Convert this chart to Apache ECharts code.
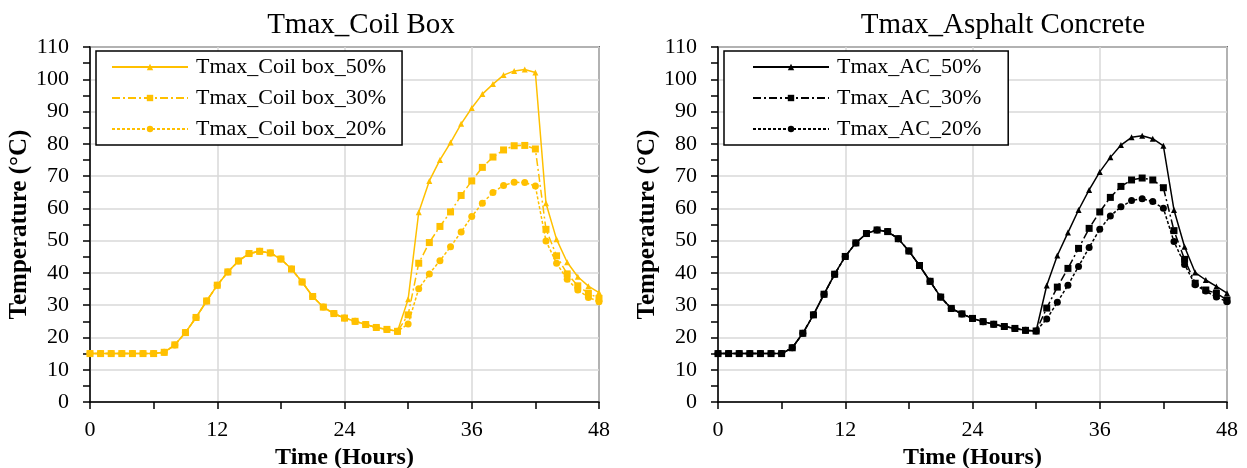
<!DOCTYPE html>
<html>
<head>
<meta charset="utf-8">
<script src="https://cdn.jsdelivr.net/npm/echarts@6/dist/echarts.min.js"></script>
<style>
  html, body { margin: 0; padding: 0; background: #fff; }
  #chart { width: 1247px; height: 468px; }
</style>
</head>
<body>
<div id="chart"></div>
<script>
// hours 0..48
const hours = [0,1,2,3,4,5,6,7,8,9,10,11,12,13,14,15,16,17,18,19,20,21,22,23,24,
  25,26,27,28,29,30,31,32,33,34,35,36,37,38,39,40,41,42,43,44,45,46,47,48];

// Coil box: shared part h0-h29, then each case from h30
const coilCommon = [15,15,15,15,15,15,15,15.4,17.7,21.5,26.2,31.3,36.2,40.3,43.7,46.0,46.7,46.2,
  44.3,41.2,37.2,32.7,29.4,27.4,26.0,25.0,24.0,23.1,22.5,21.9];
const coil50 = [31.8,58.8,68.5,75.0,80.4,86.2,91.1,95.4,98.5,101.3,102.6,103.0,102.1,61.6,50.4,43.3,38.8,35.9,33.9];
const coil30 = [27.0,43.0,49.4,54.4,58.9,64.0,68.5,72.7,75.9,78.1,79.4,79.5,78.4,53.5,45.3,39.7,36.0,33.7,32.1];
const coil20 = [24.2,35.1,39.7,43.8,48.1,52.7,57.5,61.6,64.9,67.1,68.1,68.0,66.9,49.9,43.0,38.0,34.7,32.4,31.1];

// Asphalt concrete: shared part h0-h30, then each case from h31
const acCommon = [15,15,15,15,15,15,15,16.8,21.3,27.0,33.4,39.6,45.1,49.3,52.2,53.3,52.8,50.6,46.8,
  42.3,37.4,32.5,29.0,27.3,25.9,24.9,24.1,23.4,22.8,22.2,22.0];
const ac50 = [36.1,45.4,52.5,59.5,65.7,71.3,75.8,79.6,82.0,82.5,81.6,79.4,59.5,48.1,40.1,37.8,35.8,33.7];
const ac30 = [29.1,35.6,41.4,47.6,53.8,58.9,63.4,66.8,68.8,69.4,68.8,66.4,53.1,44.2,36.8,34.7,33.7,31.6];
const ac20 = [25.7,30.9,36.2,42.0,47.9,53.5,57.6,60.5,62.4,63.0,62.1,60.0,49.7,42.6,36.3,34.4,32.5,31.1];

const coilNames = ['Tmax_Coil box_50%', 'Tmax_Coil box_30%', 'Tmax_Coil box_20%'];
const acNames = ['Tmax_AC_50%', 'Tmax_AC_30%', 'Tmax_AC_20%'];

const FONT = 'Liberation Serif';
const GOLD = '#FFC000';

function pairs(common, tail) {
  const vals = common.concat(tail);
  return hours.map((h, i) => [h, vals[i]]);
}

function xAxisFor(idx) {
  return {
    gridIndex: idx, type: 'value', min: 0, max: 48, interval: 12,
    name: 'Time (Hours)', nameLocation: 'middle', nameGap: 38,
    nameTextStyle: { fontFamily: FONT, fontSize: 24, fontWeight: 'bold', color: '#000' },
    axisLine: { lineStyle: { color: '#000', width: 1.5 } },
    axisTick: { length: 7, lineStyle: { color: '#000', width: 1.5 } },
    minorTick: { show: true, splitNumber: 2, length: 7, lineStyle: { color: '#000', width: 1.5 } },
    axisLabel: { fontFamily: FONT, fontSize: 22, color: '#000', margin: 17 },
    splitLine: { show: true, lineStyle: { color: '#d9d9d9', width: 1.5 } }
  };
}

function yAxisFor(idx) {
  return {
    gridIndex: idx, type: 'value', min: 0, max: 110, interval: 10,
    name: 'Temperature (°C)', nameLocation: 'middle', nameGap: 50,
    nameTextStyle: { fontFamily: FONT, fontSize: 25, fontWeight: 'bold', color: '#000' },
    axisLine: { lineStyle: { color: '#000', width: 1.5 } },
    axisTick: { length: 7, lineStyle: { color: '#000', width: 1.5 } },
    minorTick: { show: true, splitNumber: 2, length: 7, lineStyle: { color: '#000', width: 1.5 } },
    axisLabel: { fontFamily: FONT, fontSize: 22, color: '#000', margin: 21 },
    splitLine: { show: true, lineStyle: { color: '#d9d9d9', width: 1.5 } }
  };
}

function lineSeries(name, data, idx, color, symbol, size, dash) {
  return {
    name: name, type: 'line', xAxisIndex: idx, yAxisIndex: idx,
    data: data, symbol: symbol, symbolSize: size, showSymbol: true,
    lineStyle: { color: color, width: 1.5, type: dash },
    itemStyle: { color: color },
    animation: false
  };
}

function legendFor(left, names, pad) {
  return {
    left: left, top: 51, orient: 'vertical', data: names,
    itemWidth: 76, itemHeight: 8, itemGap: 9,
    padding: pad,
    backgroundColor: '#fff', borderColor: '#000', borderWidth: 1.5,
    textStyle: { fontFamily: FONT, fontSize: 22, color: '#000', padding: [0, 0, 0, 3] }
  };
}

const chart = echarts.init(document.getElementById('chart'));
chart.setOption({
  animation: false,
  title: [
    { text: 'Tmax_Coil Box', left: 356, top: 6, textAlign: 'center',
      textStyle: { fontFamily: FONT, fontSize: 29, fontWeight: 'normal', color: '#000' } },
    { text: 'Tmax_Asphalt Concrete', left: 998, top: 6, textAlign: 'center',
      textStyle: { fontFamily: FONT, fontSize: 29, fontWeight: 'normal', color: '#000' } }
  ],
  grid: [
    { left: 90, top: 47, width: 509, height: 355, outerBoundsMode: 'none',
      show: true, borderColor: '#000', borderWidth: 1.5 },
    { left: 718, top: 47, width: 509, height: 355, outerBoundsMode: 'none',
      show: true, borderColor: '#000', borderWidth: 1.5 }
  ],
  legend: [
    legendFor(96, coilNames, [5, 16, 5, 15]),
    legendFor(724, acNames, [5, 27, 5, 28])
  ],
  xAxis: [xAxisFor(0), xAxisFor(1)],
  yAxis: [yAxisFor(0), yAxisFor(1)],
  series: [
    lineSeries(coilNames[0], pairs(coilCommon, coil50), 0, GOLD, 'triangle', 6, 'solid'),
    lineSeries(coilNames[2], pairs(coilCommon, coil20), 0, GOLD, 'circle', 7, [3, 2]),
    lineSeries(coilNames[1], pairs(coilCommon, coil30), 0, GOLD, 'rect', 7, [8, 3, 2, 3]),
    lineSeries(acNames[0], pairs(acCommon, ac50), 1, '#000', 'triangle', 6, 'solid'),
    lineSeries(acNames[2], pairs(acCommon, ac20), 1, '#000', 'circle', 7, [3, 2]),
    lineSeries(acNames[1], pairs(acCommon, ac30), 1, '#000', 'rect', 7, [8, 3, 2, 3])
  ]
});
</script>
</body>
</html>
